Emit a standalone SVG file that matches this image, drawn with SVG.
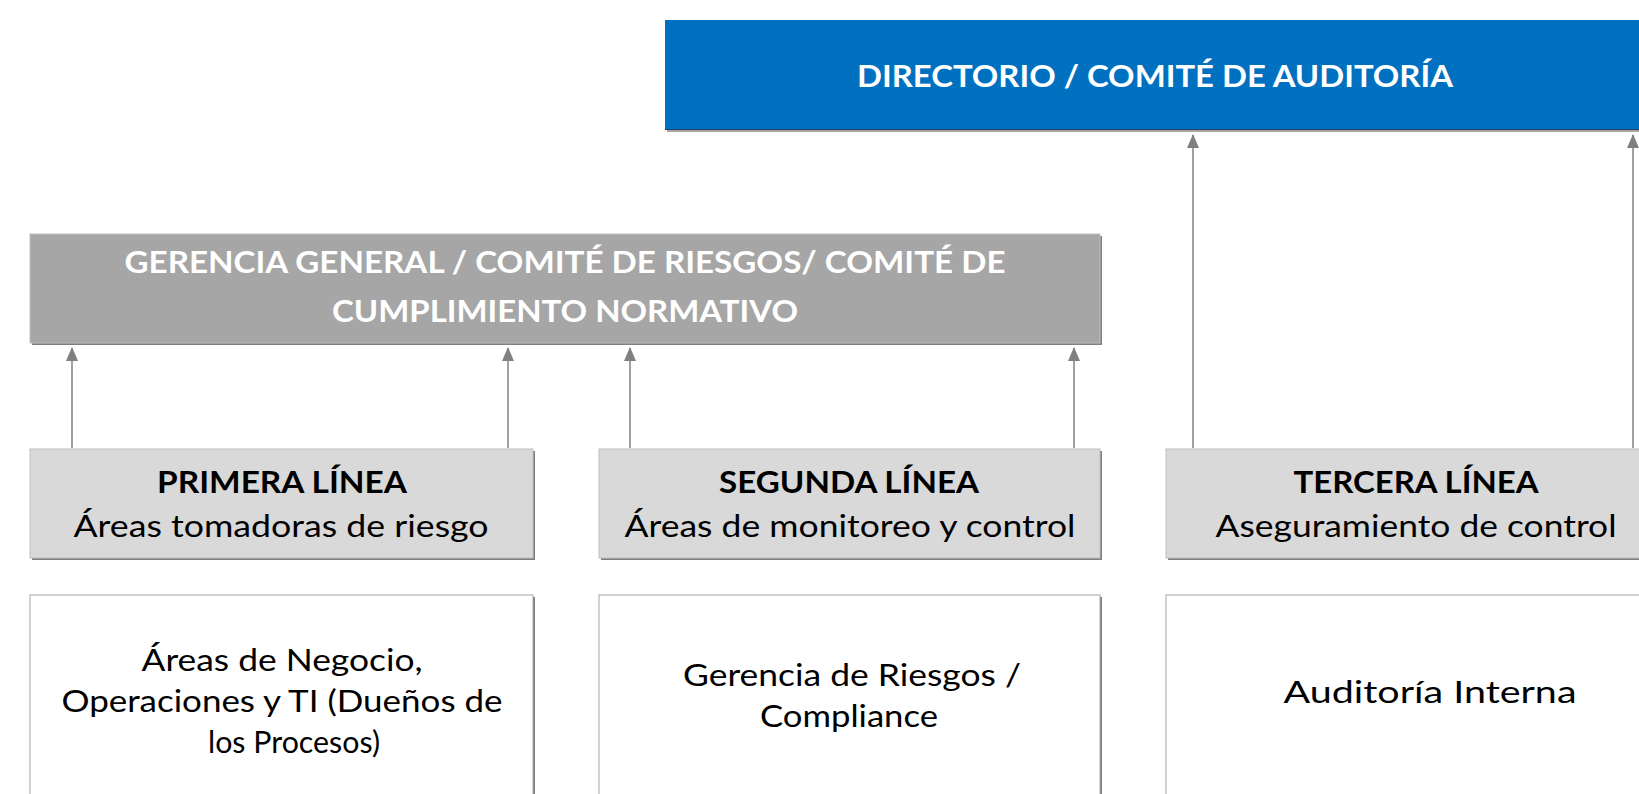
<svg xmlns="http://www.w3.org/2000/svg" width="1639" height="794" viewBox="0 0 1639 794">
<defs>
<marker id="ah" markerWidth="14" markerHeight="12" refX="13" refY="6" orient="auto" markerUnits="userSpaceOnUse" viewBox="0 0 14 12">
<path d="M0,0 L14,6 L0,12 Z" fill="#808080"/>
</marker>
<style>
.t{font-family:Lato,"Open Sans","Liberation Sans",sans-serif;text-anchor:middle}
.b{font-weight:bold}
.w{fill:#ffffff}
.k{fill:#000000}
.sh{fill:#7f7f7f}
.lb{fill:#d9d9d9;stroke:#bfbfbf;stroke-width:1}
.wb{fill:#ffffff;stroke:#a6a6a6;stroke-width:1}
.c{stroke:#808080;stroke-width:1.5;fill:none;marker-end:url(#ah)}
</style>
</defs>
<rect width="1639" height="794" fill="#ffffff"/>

<g id="directorio">
<rect x="667" y="22" width="990" height="110" fill="#a6a6a6"/>
<rect x="665" y="20" width="990" height="110" fill="#0070c0"/>
<line x1="665" y1="129.5" x2="1639" y2="129.5" stroke="#1f3f66" stroke-width="1"/>
<text class="t b w" x="1155" y="87" font-size="31" textLength="596" lengthAdjust="spacingAndGlyphs">DIRECTORIO / COMITÉ DE AUDITORÍA</text>
</g>

<g id="gerencia">
<rect class="sh" x="32" y="236" width="1070" height="109"/>
<rect x="30" y="234" width="1070" height="109" fill="#a6a6a6" stroke="#bfbfbf" stroke-width="1"/>
<text class="t b w" x="565" y="273" font-size="30" textLength="881" lengthAdjust="spacingAndGlyphs">GERENCIA GENERAL / COMITÉ DE RIESGOS/ COMITÉ DE</text>
<text class="t b w" x="565" y="322" font-size="30" textLength="466" lengthAdjust="spacingAndGlyphs">CUMPLIMIENTO NORMATIVO</text>
</g>

<g id="primera">
<rect class="sh" x="32" y="451" width="503" height="109"/>
<rect class="lb" x="30" y="449" width="503" height="109"/>
<text class="t b k" x="282" y="493" font-size="30" textLength="250" lengthAdjust="spacingAndGlyphs">PRIMERA LÍNEA</text>
<text class="t k" x="281" y="537" font-size="31" textLength="415" lengthAdjust="spacingAndGlyphs">Áreas tomadoras de riesgo</text>
</g>

<g id="segunda">
<rect class="sh" x="601" y="451" width="501" height="109"/>
<rect class="lb" x="599" y="449" width="501" height="109"/>
<text class="t b k" x="849" y="493" font-size="30" textLength="260" lengthAdjust="spacingAndGlyphs">SEGUNDA LÍNEA</text>
<text class="t k" x="850" y="537" font-size="31" textLength="451" lengthAdjust="spacingAndGlyphs">Áreas de monitoreo y control</text>
</g>

<g id="tercera">
<rect class="sh" x="1168" y="451" width="502" height="109"/>
<rect class="lb" x="1166" y="449" width="502" height="109"/>
<text class="t b k" x="1416" y="493" font-size="30" textLength="245" lengthAdjust="spacingAndGlyphs">TERCERA LÍNEA</text>
<text class="t k" x="1416" y="537" font-size="31" textLength="401" lengthAdjust="spacingAndGlyphs">Aseguramiento de control</text>
</g>

<g id="areas-negocio">
<rect class="sh" x="32" y="597" width="503" height="220"/>
<rect class="wb" x="30" y="595" width="503" height="220"/>
<text class="t k" x="282" y="671" font-size="31" textLength="281" lengthAdjust="spacingAndGlyphs">Áreas de Negocio,</text>
<text class="t k" x="282" y="712" font-size="31" textLength="441" lengthAdjust="spacingAndGlyphs">Operaciones y TI (Dueños de</text>
<text class="t k" x="294" y="753" font-size="31" textLength="172" lengthAdjust="spacingAndGlyphs">los Procesos)</text>
</g>

<g id="gerencia-riesgos">
<rect class="sh" x="601" y="597" width="501" height="220"/>
<rect class="wb" x="599" y="595" width="501" height="220"/>
<text class="t k" x="852" y="686" font-size="31" textLength="338" lengthAdjust="spacingAndGlyphs">Gerencia de Riesgos /</text>
<text class="t k" x="849" y="727" font-size="31" textLength="178" lengthAdjust="spacingAndGlyphs">Compliance</text>
</g>

<g id="auditoria-interna">
<rect class="sh" x="1168" y="597" width="502" height="220"/>
<rect class="wb" x="1166" y="595" width="502" height="220"/>
<text class="t k" x="1430" y="703" font-size="31" textLength="293" lengthAdjust="spacingAndGlyphs">Auditoría Interna</text>
</g>

<g id="connectors">
<line class="c" x1="72" y1="448" x2="72" y2="348"/>
<line class="c" x1="508" y1="448" x2="508" y2="348"/>
<line class="c" x1="630" y1="448" x2="630" y2="348"/>
<line class="c" x1="1074" y1="448" x2="1074" y2="348"/>
<line class="c" x1="1193" y1="448" x2="1193" y2="135"/>
<line class="c" x1="1633" y1="448" x2="1633" y2="135"/>
</g>
</svg>
